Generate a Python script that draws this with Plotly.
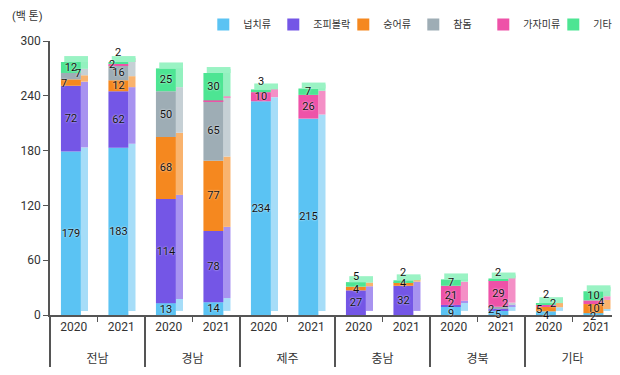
import plotly.graph_objects as go

regions = ["전남", "경남", "제주", "충남", "경북", "기타"]
years = ["2020", "2021"]

series_names = ["넙치류", "조피볼락", "숭어류", "참돔", "가자미류", "기타"]
flatfish   = [179, 183, 13, 14, 234, 215, 0, 0, 9, 5, 4, 2]
rockfish   = [72, 62, 114, 78, 0, 0, 27, 32, 2, 2, 0, 0]
mullet     = [7, 12, 68, 77, 0, 0, 4, 4, 0, 0, 5, 10]
seabream   = [7, 16, 50, 65, 0, 0, 0, 0, 0, 2, 0, 0]
flounder   = [0, 2, 0, 1, 10, 26, 0, 0, 21, 29, 2, 4]
others     = [12, 2, 25, 30, 3, 7, 5, 2, 7, 2, 2, 10]
series_values = [flatfish, rockfish, mullet, seabream, flounder, others]

colors = ["#5BC3F3", "#7456E6", "#F5881F", "#9EADB5", "#EE52A8", "#4DE593"]
side_colors = ["#A6DDF8", "#A893F0", "#F9B36E", "#C6D0D5", "#F48FC6", "#93F1BF"]
top_color = "#9AF3C4"

y_ticks = [0, 60, 120, 180, 240, 300]

# pixel offsets for labels of thin segments (style only)
label_shift = {
    (2, 0): (-7, -1), (3, 0): (7, 3),
    (4, 1): (-6, 0), (5, 1): (0, 10),
    (5, 4): (0, 9),
    (2, 6): (0, -1), (5, 6): (0, 8),
    (5, 7): (0, 9),
    (0, 8): (0, -3), (1, 8): (0, 2),
    (0, 9): (0, -2), (1, 9): (-7, 0), (3, 9): (7, 4), (5, 9): (0, 7),
    (0, 10): (0, -2), (2, 10): (-7, 0), (4, 10): (7, 2), (5, 10): (0, 10),
    (0, 11): (0, -2), (4, 11): (8, 0),
}

x_outer = ["<br>" + r for r in regions for _ in years]
x_inner = [y for _ in regions for y in years]
X = [x_outer, x_inner]

FONT = "Roboto, Noto Sans CJK KR, sans-serif"
LBL_FONT = dict(color="#111111", size=11, family=FONT, shadow="0px 0px 2px white")

FRONT_W, FRONT_OFF = 0.42, -0.27
SIDE_W, SIDE_OFF = 0.15, 0.15
DEPTH = 4.5   # vertical rise of the side face (y units)
TOP_H = 6.5

fig = go.Figure()
base = [0] * len(x_inner)
annotations = []
for si, (name, vals, col, scol) in enumerate(zip(series_names, series_values, colors, side_colors)):
    texts = []
    for j, v in enumerate(vals):
        if v >= 10 and (si, j) not in label_shift:
            texts.append(str(v))
        else:
            texts.append("")
            if v >= 2:
                dx, dy = label_shift.get((si, j), (0, 0))
                annotations.append(dict(
                    x=j, y=base[j] + v / 2, xref="x", yref="y", text=str(v),
                    showarrow=False, xshift=dx - 3, yshift=dy, font=LBL_FONT))
    # side face
    fig.add_trace(go.Bar(
        x=X, y=vals, base=[b + DEPTH for b in base], name=name,
        marker=dict(color=scol, line=dict(width=0)),
        width=SIDE_W, offset=SIDE_OFF, showlegend=False, hoverinfo="skip",
    ))
    # front face
    fig.add_trace(go.Bar(
        x=X, y=vals, base=list(base), name=name,
        marker=dict(color=col, line=dict(width=0)),
        width=FRONT_W, offset=FRONT_OFF,
        text=texts, textangle=0,
        textposition="inside", insidetextanchor="middle",
        textfont=LBL_FONT, cliponaxis=False,
    ))
    base = [b + v for b, v in zip(base, vals)]

# top faces
fig.add_trace(go.Bar(
    x=X, y=[TOP_H] * len(base), base=base, marker=dict(color=top_color, line=dict(width=0)),
    width=FRONT_W + SIDE_W - 0.07, offset=FRONT_OFF + 0.07, showlegend=False, hoverinfo="skip",
))

fig.update_layout(
    barmode="overlay",
    width=620, height=375,
    margin=dict(l=42, r=8, t=33, b=68, autoexpand=False),
    plot_bgcolor="white", paper_bgcolor="white",
    font=dict(family=FONT, size=12, color="#222222"),
    uniformtext=dict(minsize=11, mode="show"),
    legend=dict(orientation="h", traceorder="normal", x=0.315, xanchor="left",
                y=0.995, yanchor="top", yref="container", xref="container",
                font=dict(size=10, color="#333333"), itemwidth=30,
                entrywidth=25, entrywidthmode="pixels",
                bgcolor="rgba(0,0,0,0)"),
    annotations=annotations,
    showlegend=True,
)
fig.update_yaxes(range=[0, 300], tickvals=y_ticks, showgrid=False, zeroline=False,
                 showline=True, linecolor="#555555", linewidth=1.5,
                 ticks="outside", ticklen=5, tickcolor="#555555",
                 tickfont=dict(size=12, color="#333333"))
fig.update_xaxes(type="multicategory", showline=True, linecolor="#555555", linewidth=1.5,
                 ticks="outside", ticklen=5, tickcolor="#555555", tickson="boundaries",
                 showdividers=True, dividercolor="#555555", dividerwidth=1.5,
                 tickfont=dict(size=12, color="#333333"), showgrid=False)
fig.add_annotation(text="(백 톤)", xref="paper", yref="paper", x=-0.07, y=1.06,
                   xanchor="left", yanchor="bottom", showarrow=False,
                   font=dict(size=11, color="#333333"))

fig.write_html("out.html")
